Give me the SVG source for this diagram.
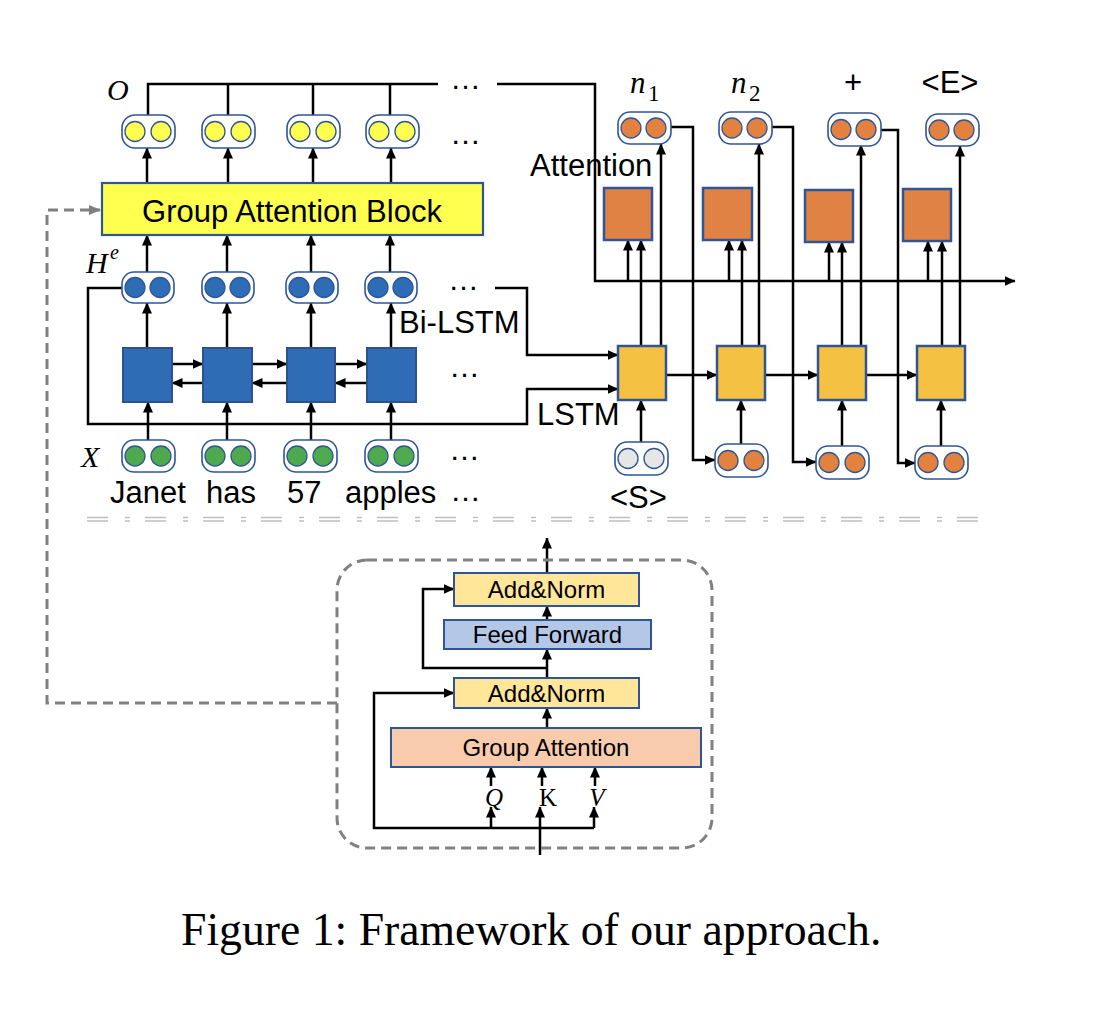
<svg xmlns="http://www.w3.org/2000/svg" width="1112" height="1016" viewBox="0 0 1112 1016">
<defs>
<style>
.ln{stroke:#000;stroke-width:2.5;fill:none}
.ar{marker-end:url(#ah)}
.dg{stroke:#808080;stroke-width:3;fill:none;stroke-dasharray:10 6}
.pill{fill:#fff;stroke:#2F5597;stroke-width:1.6}
.c{stroke:#2F5597;stroke-width:1.3}
.cy{fill:#FFFF4F}.cb{fill:#2E6DB5}.cg{fill:#4EA94F}.co{fill:#E3823F}.cw{fill:#E7E6E6}
.eb{fill:#2E6DB5;stroke:#2F528F;stroke-width:2}
.db{fill:#F5C142;stroke:#2F5597;stroke-width:2.5}
.ab{fill:#E08244;stroke:#2F5597;stroke-width:2.5}
.t{font-family:"Liberation Sans",Arial,sans-serif;font-size:31px;fill:#000}
.s{font-family:"Liberation Sans",Arial,sans-serif;font-size:24px;fill:#000}
.m{font-family:"Liberation Serif","Times New Roman",serif;font-style:italic;fill:#000}
.sep{stroke:#BFBFBF;stroke-width:1.6;fill:none;stroke-dasharray:21 17 5 15}
</style>
<marker id="ah" markerUnits="userSpaceOnUse" markerWidth="11" markerHeight="10" refX="10.5" refY="5" orient="auto"><path d="M0,0 L11,5 L0,10 z" fill="#000"/></marker>
<marker id="ag" markerUnits="userSpaceOnUse" markerWidth="12" markerHeight="10" refX="11" refY="5" orient="auto"><path d="M0,0 L12,5 L0,10 z" fill="#808080"/></marker>
</defs>
<rect width="1112" height="1016" fill="#fff"/>

<!-- connectors -->
<g id="connectors">
<path class="ln" d="M148,115 V84 H438 M228,84 V115 M313,84 V115 M390,84 V115"/>
<path class="ln ar" d="M497,84 H595 V281 H1015"/>
<path class="ln ar" d="M147,183 V148"/><path class="ln ar" d="M228,183 V148"/><path class="ln ar" d="M313,183 V148"/><path class="ln ar" d="M391,183 V148"/>
<path class="ln ar" d="M147,272 V235"/><path class="ln ar" d="M227,272 V235"/><path class="ln ar" d="M311,272 V235"/><path class="ln ar" d="M390,272 V235"/>
<path class="ln ar" d="M147,348 V303"/><path class="ln ar" d="M227,348 V303"/><path class="ln ar" d="M311,348 V303"/><path class="ln ar" d="M391,348 V303"/>
<path class="ln ar" d="M148,440 V402"/><path class="ln ar" d="M227,440 V402"/><path class="ln ar" d="M311,440 V402"/><path class="ln ar" d="M391,440 V402"/>
<path class="ln ar" d="M172,364 H203"/><path class="ln ar" d="M252,364 H287"/><path class="ln ar" d="M335,364 H367"/>
<path class="ln ar" d="M203,383 H172"/><path class="ln ar" d="M287,383 H252"/><path class="ln ar" d="M367,383 H335"/>
<path class="ln ar" d="M122,288 H88 V424 H527 V389 H618"/>
<path class="ln ar" d="M495,288 H527 V355 H618"/>
<path class="ln ar" d="M666,375 H717"/><path class="ln ar" d="M765,375 H818"/><path class="ln ar" d="M866,375 H917"/>
<path class="ln ar" d="M641,442 V400"/><path class="ln ar" d="M741,444 V400"/><path class="ln ar" d="M842,446 V400"/><path class="ln ar" d="M941,446 V400"/>
<path class="ln ar" d="M628,281 V240"/><path class="ln ar" d="M641,346 V240"/>
<path class="ln ar" d="M729,281 V240"/><path class="ln ar" d="M742,346 V240"/>
<path class="ln ar" d="M829,281 V242"/><path class="ln ar" d="M842,346 V242"/>
<path class="ln ar" d="M928,281 V241"/><path class="ln ar" d="M942,346 V241"/>
<path class="ln ar" d="M661,346 V144"/><path class="ln ar" d="M759,346 V144"/><path class="ln ar" d="M861,346 V145"/><path class="ln ar" d="M960,346 V146"/>
<path class="ln ar" d="M671,127 H693 V460 H715"/>
<path class="ln ar" d="M772,127 H793 V462 H816"/>
<path class="ln ar" d="M881,130 H898 V463 H915"/>
<path class="dg" d="M337,703 H47 V210 H100" marker-end="url(#ag)"/>
<path class="ln ar" d="M547,573 V538"/>
<path class="ln ar" d="M547,620 V606"/>
<path class="ln ar" d="M547,678 V649"/>
<path class="ln ar" d="M547,728 V708"/>
<path class="ln ar" d="M547,668 H423 V589 H454"/>
<path class="ln ar" d="M491,828 H374 V693 H454"/>
<path class="ln" d="M491,828 H594"/>
<path class="ln ar" d="M491,828 V807"/><path class="ln ar" d="M594,828 V807"/><path class="ln ar" d="M540,855 V807"/>
<path class="ln ar" d="M491,786 V767"/><path class="ln ar" d="M542,786 V767"/><path class="ln ar" d="M595,786 V767"/>
</g>

<!-- encoder output O -->
<g id="o1" transform="translate(122,115)"><rect class="pill" width="53" height="33" rx="13"/><circle class="c cy" cx="13" cy="16.5" r="10"/><circle class="c cy" cx="39" cy="16.5" r="10"/></g>
<g id="o2" transform="translate(202,115)"><rect class="pill" width="53" height="33" rx="13"/><circle class="c cy" cx="13" cy="16.5" r="10"/><circle class="c cy" cx="39" cy="16.5" r="10"/></g>
<g id="o3" transform="translate(287,115)"><rect class="pill" width="53" height="33" rx="13"/><circle class="c cy" cx="13" cy="16.5" r="10"/><circle class="c cy" cx="39" cy="16.5" r="10"/></g>
<g id="o4" transform="translate(366,115)"><rect class="pill" width="53" height="33" rx="13"/><circle class="c cy" cx="13" cy="16.5" r="10"/><circle class="c cy" cx="39" cy="16.5" r="10"/></g>

<g id="gab"><rect x="102" y="183" width="381" height="52" fill="#FFFF4F" stroke="#2F5597" stroke-width="2.2"/><text class="t" x="292" y="222" text-anchor="middle" font-size="31.5">Group Attention Block</text></g>

<!-- He -->
<g id="h1" transform="translate(122,272)"><rect class="pill" width="52" height="31" rx="12"/><circle class="c cb" cx="13" cy="15.5" r="10"/><circle class="c cb" cx="38" cy="15.5" r="10"/></g>
<g id="h2" transform="translate(202,272)"><rect class="pill" width="52" height="31" rx="12"/><circle class="c cb" cx="13" cy="15.5" r="10"/><circle class="c cb" cx="38" cy="15.5" r="10"/></g>
<g id="h3" transform="translate(286,272)"><rect class="pill" width="52" height="31" rx="12"/><circle class="c cb" cx="13" cy="15.5" r="10"/><circle class="c cb" cx="38" cy="15.5" r="10"/></g>
<g id="h4" transform="translate(365,272)"><rect class="pill" width="52" height="31" rx="12"/><circle class="c cb" cx="13" cy="15.5" r="10"/><circle class="c cb" cx="38" cy="15.5" r="10"/></g>

<!-- Bi-LSTM cells -->
<g id="e1"><rect class="eb" x="123" y="348" width="49" height="54"/></g>
<g id="e2"><rect class="eb" x="203" y="348" width="49" height="54"/></g>
<g id="e3"><rect class="eb" x="287" y="348" width="48" height="54"/></g>
<g id="e4"><rect class="eb" x="367" y="348" width="49" height="54"/></g>

<!-- X -->
<g id="x1" transform="translate(122,440)"><rect class="pill" width="53" height="32" rx="12"/><circle class="c cg" cx="13" cy="16" r="10"/><circle class="c cg" cx="39" cy="16" r="10"/></g>
<g id="x2" transform="translate(202,440)"><rect class="pill" width="53" height="32" rx="12"/><circle class="c cg" cx="13" cy="16" r="10"/><circle class="c cg" cx="39" cy="16" r="10"/></g>
<g id="x3" transform="translate(284,440)"><rect class="pill" width="53" height="32" rx="12"/><circle class="c cg" cx="13" cy="16" r="10"/><circle class="c cg" cx="39" cy="16" r="10"/></g>
<g id="x4" transform="translate(365,440)"><rect class="pill" width="53" height="32" rx="12"/><circle class="c cg" cx="13" cy="16" r="10"/><circle class="c cg" cx="39" cy="16" r="10"/></g>

<!-- decoder -->
<g id="att1"><rect class="ab" x="604" y="188" width="48" height="52"/></g>
<g id="att2"><rect class="ab" x="703" y="188" width="49" height="52"/></g>
<g id="att3"><rect class="ab" x="805" y="190" width="48" height="52"/></g>
<g id="att4"><rect class="ab" x="903" y="189" width="48" height="52"/></g>
<g id="d1"><rect class="db" x="618" y="346" width="48" height="54"/></g>
<g id="d2"><rect class="db" x="717" y="346" width="48" height="54"/></g>
<g id="d3"><rect class="db" x="818" y="346" width="48" height="54"/></g>
<g id="d4"><rect class="db" x="917" y="346" width="48" height="54"/></g>

<g id="y1" transform="translate(618,112)"><rect class="pill" width="53" height="32" rx="12"/><circle class="c co" cx="13" cy="16" r="10"/><circle class="c co" cx="38" cy="16" r="10"/></g>
<g id="y2" transform="translate(719,112)"><rect class="pill" width="53" height="32" rx="12"/><circle class="c co" cx="13" cy="16" r="10"/><circle class="c co" cx="38" cy="16" r="10"/></g>
<g id="y3" transform="translate(828,113)"><rect class="pill" width="53" height="33" rx="12"/><circle class="c co" cx="13" cy="16.5" r="10"/><circle class="c co" cx="38" cy="16.5" r="10"/></g>
<g id="y4" transform="translate(926,114)"><rect class="pill" width="53" height="32" rx="12"/><circle class="c co" cx="13" cy="16" r="10"/><circle class="c co" cx="38" cy="16" r="10"/></g>

<g id="i1" transform="translate(615,442)"><rect class="pill" width="53" height="33" rx="12"/><circle class="c cw" cx="13" cy="16.5" r="10"/><circle class="c cw" cx="39" cy="16.5" r="10"/></g>
<g id="i2" transform="translate(715,444)"><rect class="pill" width="53" height="33" rx="12"/><circle class="c co" cx="13" cy="16.5" r="10"/><circle class="c co" cx="39" cy="16.5" r="10"/></g>
<g id="i3" transform="translate(816,446)"><rect class="pill" width="53" height="33" rx="12"/><circle class="c co" cx="13" cy="16.5" r="10"/><circle class="c co" cx="39" cy="16.5" r="10"/></g>
<g id="i4" transform="translate(915,446)"><rect class="pill" width="53" height="33" rx="12"/><circle class="c co" cx="13" cy="16.5" r="10"/><circle class="c co" cx="39" cy="16.5" r="10"/></g>

<!-- labels -->
<g id="labels">
<text class="m" x="107" y="100" font-size="30">O</text>
<text class="m" x="86" y="273" font-size="30">H</text><text class="m" x="110" y="259" font-size="20">e</text>
<text class="m" x="81" y="467" font-size="30">X</text>
<text class="t" x="110" y="503">Janet</text>
<text class="t" x="206" y="503">has</text>
<text class="t" x="287" y="503">57</text>
<text class="t" x="345" y="503">apples</text>
<text class="t" x="450" y="89">…</text>
<text class="t" x="450" y="144">…</text>
<text class="t" x="448" y="290">…</text>
<text class="t" x="449" y="377">…</text>
<text class="t" x="449" y="460">…</text>
<text class="t" x="450" y="501">…</text>
<text class="t" x="399" y="333">Bi-LSTM</text>
<text class="t" x="537" y="425">LSTM</text>
<text class="t" x="530" y="176">Attention</text>
<text class="t" x="610" y="508">&lt;S&gt;</text>
<text class="m" x="630" y="93" font-size="31">n</text><text x="648" y="101" font-family="Liberation Serif,serif" font-size="23">1</text>
<text class="m" x="731" y="93" font-size="31">n</text><text x="749" y="101" font-family="Liberation Serif,serif" font-size="23">2</text>
<text class="t" x="853" y="93" text-anchor="middle">+</text>
<text class="t" x="950" y="93" text-anchor="middle">&lt;E&gt;</text>
</g>

<g id="separator">
<path class="sep" d="M87,517.5 H980"/>
<path class="sep" d="M87,521 H980"/>
</g>

<!-- Group attention block detail -->
<g id="gablock"><rect x="337" y="560" width="375" height="288" rx="30" class="dg"/></g>
<g id="an2"><rect x="454" y="573" width="185" height="33" fill="#FFE699" stroke="#2F5597" stroke-width="2"/><text class="s" x="546.5" y="598" text-anchor="middle">Add&amp;Norm</text></g>
<g id="ff"><rect x="444" y="620" width="207" height="29" fill="#B4C7E7" stroke="#2F5597" stroke-width="2"/><text class="s" x="547.5" y="643" text-anchor="middle">Feed Forward</text></g>
<g id="an1"><rect x="454" y="678" width="185" height="30" fill="#FFE699" stroke="#2F5597" stroke-width="2"/><text class="s" x="546.5" y="702" text-anchor="middle">Add&amp;Norm</text></g>
<g id="ga"><rect x="391" y="728" width="310" height="39" fill="#F8CBAD" stroke="#2F5597" stroke-width="2"/><text class="s" x="546" y="756" text-anchor="middle">Group Attention</text></g>
<g id="qkv">
<text class="m" x="494" y="806" font-size="25" text-anchor="middle">Q</text>
<text x="548" y="806" font-family="Liberation Serif,serif" font-size="25" text-anchor="middle">K</text>
<text class="m" x="597" y="806" font-size="25" text-anchor="middle">V</text>
</g>

<text x="181" y="945" font-family="Liberation Serif,'Times New Roman',serif" font-size="45.7">Figure 1: Framework of our approach.</text>
</svg>
